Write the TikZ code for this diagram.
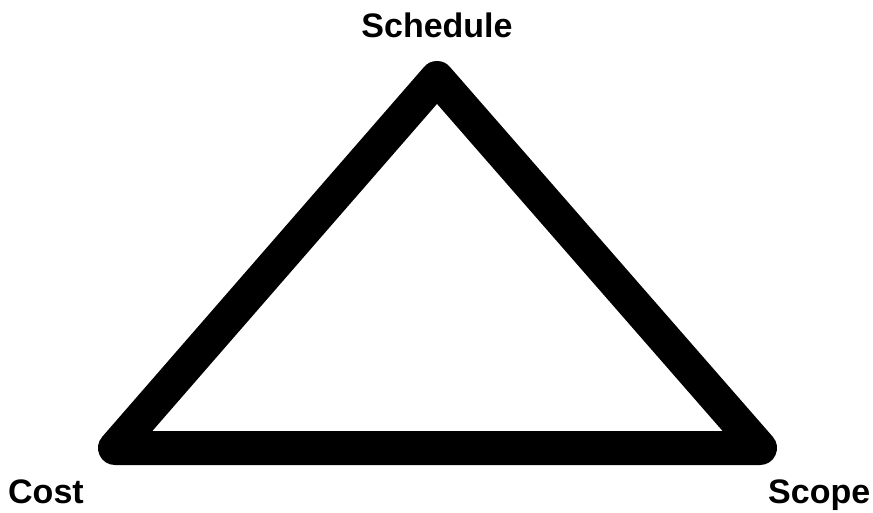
\documentclass[tikz,border=0pt]{standalone}
\usepackage{fontspec}
\setmainfont{Liberation Sans}
\begin{document}
\begin{tikzpicture}[x=1pt,y=-1pt,
  lbl/.style={font=\fontsize{34}{40}\selectfont\bfseries, inner sep=0pt},
  edge/.style={line width=34pt, line join=round, line cap=round, black}]
\useasboundingbox (0,0) rectangle (873,512);
\coordinate (top) at (437,78);
\coordinate (bl) at (115,448);
\coordinate (br) at (760,448);
\draw[edge] (top) -- (bl) -- (br) -- cycle;
\node[lbl, anchor=base] (schedule) at (437,37) {Schedule};
\node[lbl, anchor=base west] (cost) at (8,503) {Cost};
\node[lbl, anchor=base west] (scope) at (768,503) {Scope};
\end{tikzpicture}
\end{document}
